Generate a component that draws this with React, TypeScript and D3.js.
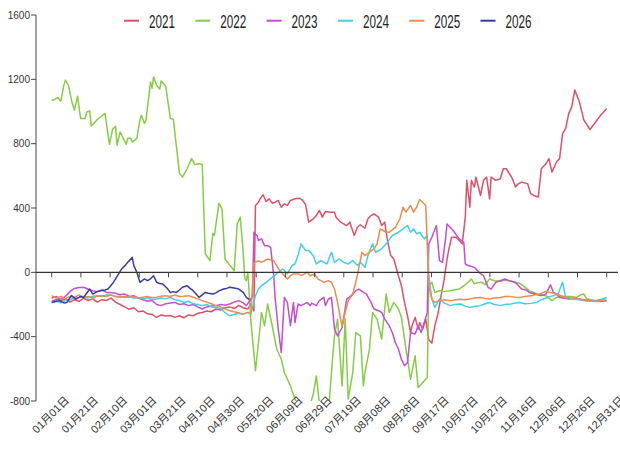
import React from "react";
import * as d3 from "d3";

const years = ["2021", "2022", "2023", "2024", "2025", "2026"];
const colors = ["#e0506a", "#86cc45", "#c24fcf", "#41cfe6", "#f28a4a", "#3b3ba3"];

const xLabels = ["01月01日","01月21日","02月10日","03月01日","03月21日","04月10日","04月30日","05月20日","06月09日","06月29日","07月19日","08月08日","08月28日","09月17日","10月07日","10月27日","11月16日","12月06日","12月26日","12月31日"];
const yTicks = [-800, -400, 0, 400, 800, 1200, 1600];

// [day of year (0 = 01月01日), value]
const s2021: [number, number][] = [[0,-160],[3,-150],[6,-175],[9,-165],[12,-185],[15,-170],[18,-180],[21,-160],[24,-175],[27,-165],[30,-185],[33,-170],[36,-175],[39,-160],[42,-185],[45,-200],[48,-215],[51,-230],[54,-220],[57,-245],[60,-240],[63,-258],[66,-262],[69,-280],[72,-265],[75,-272],[78,-268],[81,-280],[84,-270],[87,-282],[90,-265],[93,-270],[96,-255],[99,-250],[102,-240],[105,-245],[108,-228],[111,-235],[114,-220],[117,-215],[120,-225],[123,-205],[126,-220],[129,-228],[131,-197],[133,-240],[134,416],[136,436],[137,457],[139,482],[141,440],[143,457],[145,430],[147,436],[149,447],[151,405],[153,426],[155,416],[157,447],[160,457],[163,461],[165,447],[167,420],[169,312],[172,333],[174,353],[176,385],[178,343],[180,378],[183,374],[186,374],[187,343],[190,312],[194,291],[196,312],[199,229],[201,280],[203,296],[206,274],[208,333],[210,353],[212,364],[215,343],[217,291],[219,312],[221,187],[223,104],[225,83],[228,-21],[230,-83],[232,-187],[234,-270],[236,-374],[237,-332],[239,-280],[241,-353],[242,-312],[244,-353],[246,-291],[248,-420],[250,-440],[252,-330],[254,-260],[256,-150],[258,-50],[260,80],[261,135],[263,218],[266,218],[270,177],[272,343],[273,572],[275,405],[276,572],[278,530],[279,592],[282,478],[284,572],[286,592],[288,457],[289,592],[292,572],[295,582],[297,644],[299,644],[303,582],[305,530],[307,551],[309,561],[313,551],[315,489],[317,478],[320,468],[322,644],[325,675],[327,707],[329,623],[332,686],[334,707],[336,863],[338,894],[340,987],[342,1029],[344,1133],[347,1060],[350,946],[354,888],[357,925],[361,977],[365,1018]];

const s2022: [number, number][] = [[0,1070],[2,1075],[4,1087],[6,1064],[8,1164],[9,1195],[11,1164],[13,1070],[15,1008],[17,1095],[19,957],[22,957],[23,997],[25,1003],[26,908],[30,950],[35,989],[38,796],[40,889],[42,908],[43,790],[45,873],[49,796],[50,833],[52,833],[53,810],[56,833],[58,946],[59,977],[61,926],[62,946],[65,1184],[66,1145],[67,1215],[69,1164],[71,1139],[72,1190],[75,1157],[78,957],[80,951],[84,617],[86,592],[89,644],[92,708],[94,671],[97,675],[99,671],[101,116],[104,73],[106,243],[107,229],[110,430],[112,395],[114,83],[120,10],[122,301],[124,343],[126,115],[127,-39],[128,-52],[129,0],[131,-300],[134,-612],[136,-436],[138,-249],[140,-332],[142,-197],[145,-332],[148,-477],[151,-540],[153,-623],[157,-706],[160,-787],[163,-880],[167,-850],[170,-820],[172,-760],[174,-644],[176,-810],[178,-900],[182,-870],[185,-500],[186,-395],[188,-291],[191,-706],[193,-289],[195,-787],[198,-623],[200,-374],[203,-395],[205,-706],[206,-623],[209,-477],[211,-249],[214,-291],[217,-415],[220,-135],[222,-249],[225,-187],[228,-228],[230,-280],[233,-477],[236,-665],[239,-519],[241,-717],[247,-654],[248,-83],[250,-62],[252,-125],[255,-114],[258,-120],[262,-114],[265,-108],[268,-103],[271,-85],[274,-60],[276,-41],[278,-72],[280,-65],[283,-62],[285,-77],[288,-41],[291,-52],[295,-56],[298,-50],[301,-52],[305,-62],[308,-70],[311,-90],[314,-114],[317,-125],[319,-135],[322,-140],[325,-145],[327,-160],[329,-176],[332,-156],[335,-150],[338,-151],[342,-150],[345,-156],[348,-140],[350,-135],[352,-166],[355,-170],[358,-176],[361,-175],[365,-172]];

const s2023: [number, number][] = [[0,-180],[3,-170],[6,-165],[9,-150],[12,-120],[15,-100],[18,-95],[21,-93],[24,-105],[27,-115],[30,-120],[33,-110],[36,-125],[39,-125],[42,-130],[45,-140],[48,-135],[51,-150],[54,-145],[57,-160],[60,-170],[63,-180],[66,-175],[69,-200],[72,-207],[75,-195],[78,-190],[81,-187],[84,-200],[87,-195],[90,-207],[93,-200],[96,-215],[99,-228],[102,-215],[105,-210],[108,-207],[111,-200],[114,-205],[117,-197],[120,-185],[123,-176],[126,-190],[128,-207],[130,-180],[132,-150],[133,249],[135,229],[136,198],[138,208],[140,166],[142,166],[144,156],[146,-21],[147,-166],[149,-353],[151,-499],[153,-156],[155,-187],[157,-332],[159,-187],[160,-312],[162,-197],[164,-207],[168,-187],[170,-207],[171,-191],[174,-207],[176,-176],[179,-156],[180,-207],[182,-166],[184,-156],[186,-353],[188,-395],[191,-343],[194,-166],[197,-145],[200,-114],[202,-104],[205,-125],[207,-135],[210,-187],[212,-228],[215,-239],[217,-249],[219,-291],[222,-332],[224,-374],[226,-436],[228,-477],[230,-540],[232,-581],[234,-561],[236,-374],[239,-384],[241,-332],[243,-374],[245,-312],[247,-249],[248,177],[250,218],[253,291],[255,73],[257,62],[259,208],[260,301],[264,260],[268,208],[271,187],[272,52],[274,42],[278,31],[281,0],[284,-21],[287,-93],[289,-104],[292,-62],[295,-52],[298,-41],[301,-52],[304,-60],[306,-72],[309,-104],[312,-110],[314,-125],[318,-135],[322,-145],[325,-135],[328,-77],[330,-125],[332,-135],[334,-156],[337,-160],[340,-166],[344,-162],[347,-166],[350,-170],[354,-176],[357,-178],[360,-181],[365,-176]];

const s2024: [number, number][] = [[0,-187],[3,-180],[6,-190],[9,-175],[12,-170],[15,-160],[18,-156],[21,-150],[24,-160],[27,-148],[30,-145],[33,-150],[36,-140],[39,-141],[42,-150],[45,-148],[48,-156],[51,-150],[54,-160],[57,-156],[60,-165],[63,-158],[66,-170],[69,-166],[72,-160],[75,-165],[78,-156],[81,-170],[84,-175],[87,-187],[90,-180],[93,-195],[96,-200],[99,-207],[102,-200],[105,-215],[108,-218],[111,-225],[114,-250],[117,-270],[120,-262],[123,-255],[126,-260],[129,-249],[131,-260],[134,-145],[136,-104],[138,-83],[141,-62],[145,-31],[149,0],[152,21],[155,-10],[158,42],[160,52],[162,104],[164,177],[167,135],[169,135],[172,104],[174,52],[177,73],[179,62],[181,52],[184,125],[186,62],[189,83],[192,62],[195,52],[198,73],[201,42],[203,62],[206,31],[208,104],[211,177],[213,125],[217,146],[220,177],[224,229],[228,249],[231,270],[234,291],[236,249],[238,270],[240,239],[242,249],[245,208],[247,229],[248,-21],[250,-166],[252,-218],[255,-166],[258,-190],[262,-207],[265,-200],[269,-197],[272,-210],[275,-218],[278,-212],[282,-207],[285,-195],[288,-187],[291,-200],[295,-207],[298,-200],[302,-197],[305,-190],[308,-187],[311,-195],[315,-193],[319,-187],[322,-170],[326,-156],[330,-145],[333,-135],[336,-62],[338,-156],[341,-162],[344,-166],[347,-170],[350,-176],[354,-178],[357,-176],[360,-170],[362,-166],[365,-156]];

const s2025: [number, number][] = [[0,-145],[3,-160],[6,-150],[9,-165],[12,-150],[15,-155],[18,-140],[21,-156],[24,-150],[27,-160],[30,-148],[33,-145],[36,-150],[39,-140],[42,-150],[45,-155],[48,-150],[51,-156],[54,-150],[57,-160],[60,-155],[63,-150],[66,-158],[69,-155],[72,-148],[75,-145],[78,-150],[81,-140],[84,-150],[87,-148],[90,-145],[93,-155],[96,-165],[99,-176],[102,-185],[105,-195],[108,-207],[111,-215],[114,-228],[117,-239],[120,-245],[123,-252],[126,-260],[129,-249],[131,-255],[133,60],[134,62],[136,73],[138,62],[142,83],[146,73],[148,42],[150,10],[152,-10],[155,-41],[157,-21],[159,-10],[162,-10],[164,-21],[168,0],[170,-21],[173,-10],[175,-41],[179,-62],[182,-52],[184,-62],[186,-104],[188,-187],[190,-291],[191,-332],[193,-249],[195,-176],[198,-135],[201,-21],[204,125],[206,104],[209,125],[212,146],[214,177],[216,270],[218,260],[220,249],[222,249],[226,280],[229,333],[231,405],[233,374],[236,416],[238,374],[240,405],[242,453],[244,436],[246,416],[248,-83],[250,-166],[252,-187],[255,-176],[258,-170],[262,-176],[265,-172],[268,-168],[272,-170],[275,-166],[278,-160],[282,-156],[285,-162],[288,-166],[291,-160],[295,-156],[298,-150],[302,-151],[305,-155],[308,-156],[311,-150],[315,-145],[318,-140],[321,-135],[325,-118],[328,-125],[332,-135],[335,-145],[339,-156],[342,-160],[345,-166],[349,-170],[352,-176],[355,-178],[358,-181],[361,-176],[364,-172]];

const s2026: [number, number][] = [[0,-187],[3,-180],[5,-176],[8,-190],[10,-187],[13,-145],[16,-166],[19,-150],[21,-156],[23,-130],[25,-104],[27,-135],[30,-120],[32,-114],[35,-110],[37,-104],[40,-70],[42,-41],[44,-10],[46,21],[48,40],[50,62],[53,93],[54,42],[56,0],[58,-62],[61,-41],[63,-52],[65,-40],[67,-21],[69,-62],[71,-70],[73,-72],[76,-100],[78,-125],[80,-120],[82,-125],[84,-110],[86,-93],[89,-83],[91,-100],[93,-114],[95,-135],[97,-156],[99,-140],[101,-125],[103,-130],[106,-135],[108,-128],[110,-115],[113,-104],[115,-100],[117,-93],[120,-98],[123,-104],[126,-125],[128,-156],[130,-170]];

const seriesData = [s2021, s2022, s2023, s2024, s2025, s2026];

const W = 620, H = 455;
const left = 36, plotTop = 15, plotBottom = 401, xStart = 51.7, xEnd = 606.7, rightEdge = 618;
const FONT = "'Liberation Sans', Arial, 'Noto Sans CJK SC', sans-serif";

export default function App() {
  const x = d3.scaleLinear().domain([0, 365]).range([xStart, xEnd]);
  const y = d3.scaleLinear().domain([-800, 1600]).range([plotBottom, plotTop]);
  const xl = d3.scalePoint<string>().domain(xLabels).range([xStart, xEnd]);
  const line = d3.line<[number, number]>().x(d => x(d[0])).y(d => y(d[1]));
  const y0 = y(0);

  return (
    <svg width={W} height={H} style={{ position: "absolute", left: 0, top: 0, background: "#fff" }} fontFamily={FONT}>
      <defs>
        <clipPath id="plot">
          <rect x={left} y={plotTop} width={rightEdge - left} height={plotBottom - plotTop} />
        </clipPath>
      </defs>
      {/* y axis */}
      <line x1={left} x2={left} y1={plotTop} y2={plotBottom} stroke="#444" strokeWidth={1} />
      {yTicks.map(t => (
        <g key={t}>
          <line x1={left - 5} x2={left} y1={y(t)} y2={y(t)} stroke="#444" />
          <text x={left - 6} y={y(t)} dy="0.35em" textAnchor="end" fontSize={10} fill="#333">{t}</text>
        </g>
      ))}
      {/* series */}
      <g clipPath="url(#plot)">
        {seriesData.map((s, i) => (
          <path key={years[i]} d={line(s) || ""} fill="none" stroke={colors[i]} strokeWidth={1.5} strokeLinejoin="round" />
        ))}
      </g>
      {/* zero axis */}
      <line x1={left} x2={rightEdge} y1={y0} y2={y0} stroke="#333" strokeWidth={1.2} />
      {xLabels.map(l => (
        <line key={"t" + l} x1={xl(l)} x2={xl(l)} y1={y0} y2={y0 + 5} stroke="#444" />
      ))}
      {xLabels.map(l => {
        const px = (xl(l) as number) + 18;
        const py = 401;
        return (
          <text key={l} x={px} y={py} textAnchor="end" fontSize={11} fill="#333" transform={`rotate(-45 ${px} ${py})`}>{l}</text>
        );
      })}
      {/* legend */}
      {years.map((yr, i) => {
        const lx = 124 + i * 71.3;
        return (
          <g key={"lg" + yr}>
            <line x1={lx} x2={lx + 15} y1={20.7} y2={20.7} stroke={colors[i]} strokeWidth={2} />
            <text x={lx + 25} y={28} fontSize={18} fill="#222" textLength={26} lengthAdjust="spacingAndGlyphs">{yr}</text>
          </g>
        );
      })}
    </svg>
  );
}
